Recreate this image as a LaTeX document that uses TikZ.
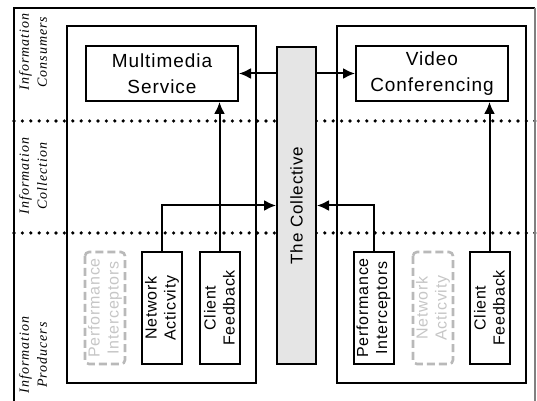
\documentclass[tikz,border=0pt]{standalone}
\usepackage{fontspec}
\setmainfont[LetterSpace=5]{Liberation Sans}
\newfontfamily\layerfont[LetterSpace=7]{Liberation Serif}
\usetikzlibrary{arrows.meta}

\begin{document}
\begin{tikzpicture}[x=0.5pt,y=-0.5pt,>={Latex[length=6pt,width=5.5pt]},
  frame/.style={line width=1pt},
  svc/.style={draw,line width=1pt,minimum width=76pt,minimum height=27.5pt,inner sep=1pt,align=center,font=\fontsize{9.5}{13}\selectfont},
  prod/.style={draw,line width=1pt,rotate=90,minimum width=56pt,minimum height=20pt,inner sep=1pt,align=center,font=\fontsize{8}{9.5}\selectfont},
  ghost/.style={prod,draw=gray!55,text=gray!45,dash pattern=on 4pt off 2pt,rounded corners=2pt,line width=1.3pt},
  layer/.style={rotate=90,align=center,font=\layerfont\itshape\fontsize{7}{9}\selectfont},
  sep/.style={line width=1.8pt,line cap=round,dash pattern=on 0pt off 4.2pt},
  link/.style={->,line width=1pt}]
\useasboundingbox (0,0) rectangle (537,401);

% layer separators
\draw[sep] (14,121) -- (535,121);
\draw[sep] (14,233) -- (535,233);

% outer frame and layer names
\draw[frame] (14,401) -- (14,8) -- (535,8);
\draw[gray,line width=0.8pt] (535,8) -- (535,401);
\node[layer] (cons) at (33,52) {Information\\Consumers};
\node[layer] (coll) at (33,176) {Information\\Collection};
\node[layer] (prodl) at (33,355) {Information\\Producers};

% two hosts
\draw[frame] (67,26) rectangle (256,383);
\draw[frame] (337,26) rectangle (526,383);

% consumers
\node[svc] (mm) at (162,73.5) {Multimedia\\Service};
\node[svc] (vc) at (432,73.5) {Video\\Conferencing};

% producers
\node[ghost] (piL) at (105,308) {Performance\\Interceptors};
\node[prod] (naL) at (162,308) {Network\\Acticvity};
\node[prod] (cfL) at (219.5,308) {Client\\Feedback};
\node[prod] (piR) at (373.5,308) {Performance\\Interceptors};
\node[ghost] (naR) at (433,308) {Network\\Acticvity};
\node[prod] (cfR) at (489.5,308) {Client\\Feedback};

% the collective
\node[draw,line width=1pt,fill=black!10,rotate=90,minimum width=158.5pt,minimum height=19.5pt,font=\fontsize{8.5}{10}\selectfont] (tc) at (296.5,205.5) {The Collective};

\draw[link] (tc.north |- mm.east) -- (mm.east);
\draw[link] (tc.south |- vc.west) -- (vc.west);
\draw[link] (naL.east) |- (tc.north);
\draw[link] (piR.east) |- (tc.south);
\draw[link] (cfL.east) -- (cfL.east |- mm.south);
\draw[link] (cfR.east) -- (cfR.east |- vc.south);
\end{tikzpicture}
\end{document}
